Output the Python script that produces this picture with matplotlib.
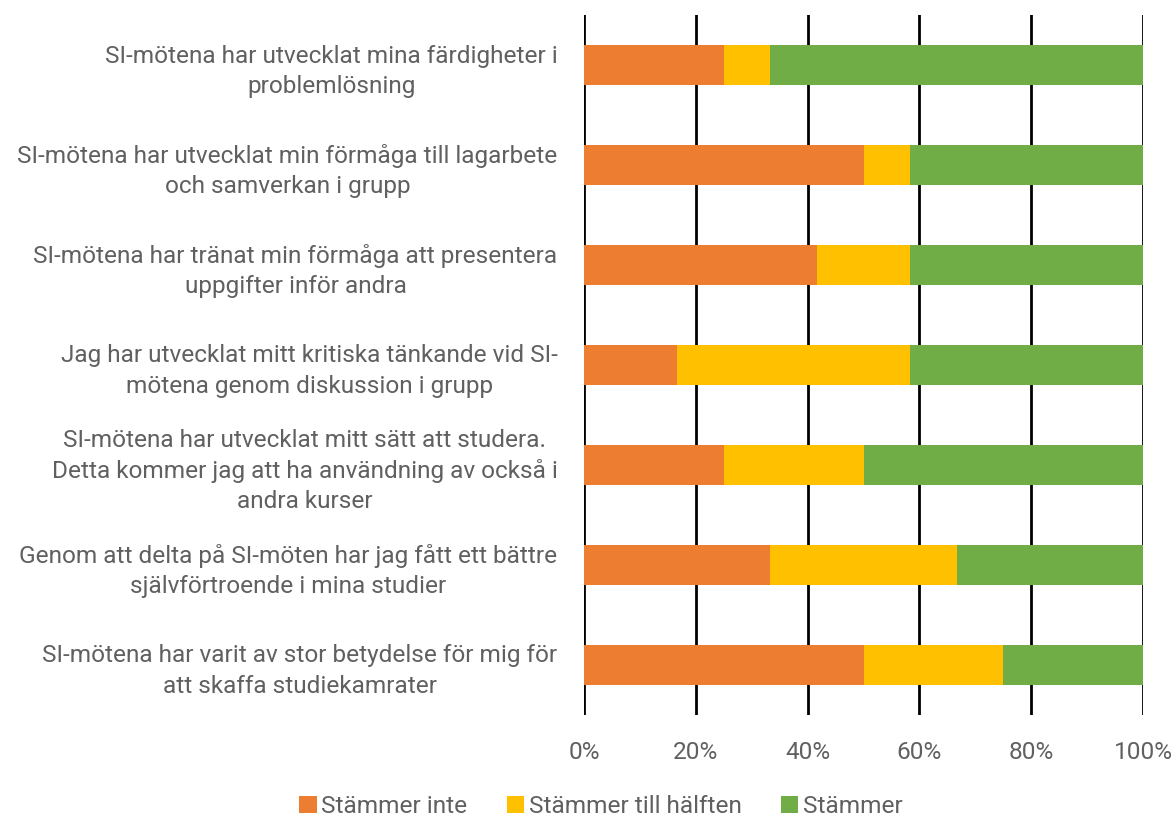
import numpy as np
import matplotlib.pyplot as plt

categories = [
    'SI-mötena har utvecklat mina färdigheter i\nproblemlösning',
    'SI-mötena har utvecklat min förmåga till lagarbete\noch samverkan i grupp',
    'SI-mötena har tränat min förmåga att presentera\nuppgifter inför andra',
    'Jag har utvecklat mitt kritiska tänkande vid SI-\nmötena genom diskussion i grupp',
    'SI-mötena har utvecklat mitt sätt att studera.\nDetta kommer jag att ha användning av också i\nandra kurser',
    'Genom att delta på SI-möten har jag fått ett bättre\nsjälvförtroende i mina studier',
    'SI-mötena har varit av stor betydelse för mig för\natt skaffa studiekamrater',
]
stammer_inte = [3/12, 6/12, 5/12, 2/12, 3/12, 4/12, 6/12]
till_halften = [1/12, 1/12, 2/12, 5/12, 3/12, 4/12, 3/12]
stammer = [8/12, 5/12, 5/12, 5/12, 6/12, 4/12, 3/12]

series = [
    ('Stämmer inte', stammer_inte, '#ED7D31'),
    ('Stämmer till hälften', till_halften, '#FFC000'),
    ('Stämmer', stammer, '#70AD47'),
]

plt.rcParams['font.family'] = ['Roboto', 'DejaVu Sans']
textcol = '#606060'
fs = 17.6

fig = plt.figure(figsize=(11.76, 8.17), dpi=100)
ax = fig.add_axes([0.4966, 0.1249, 0.4754, 0.8567])

y = np.arange(len(categories))
left = np.zeros(len(categories))
for name, vals, col in series:
    ax.barh(y, vals, left=left, height=0.4, color=col, label=name, zorder=2)
    left += np.array(vals)

ax.set_ylim(len(categories) - 0.5, -0.5)
ax.set_xlim(0, 1)
ax.set_xticks(np.linspace(0, 1, 6))
ax.set_xticklabels(['0%', '20%', '40%', '60%', '80%', '100%'])
ax.xaxis.grid(True, color='black', linewidth=2, zorder=0)
ax.set_axisbelow(True)
ax.set_yticks(y)
ax.set_yticklabels(categories, ha='right', multialignment='center',
                   fontsize=fs, color=textcol, linespacing=1.4)
ax.tick_params(axis='y', length=0, pad=19)
ax.tick_params(axis='x', length=0, pad=19, labelsize=fs, labelcolor=textcol)
for s in ax.spines.values():
    s.set_visible(False)

leg = fig.legend(loc='lower center', bbox_to_anchor=(0.511, -0.028), ncol=3,
                 frameon=False, fontsize=fs, handlelength=0.7, handleheight=0.7,
                 handletextpad=0.2, columnspacing=1.6)
for t in leg.get_texts():
    t.set_color(textcol)

fig.savefig('out.png', dpi=100)
